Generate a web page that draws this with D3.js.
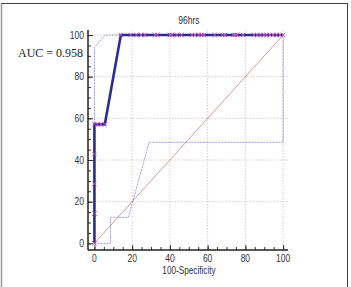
<!DOCTYPE html>
<html><head><meta charset="utf-8">
<script src="https://cdn.jsdelivr.net/npm/d3@7"></script>
<style>body{margin:0;background:#fff}svg{display:block}</style>
</head><body><div id="c"></div>
<script>
const title = "96hrs";
const aucLabel = "AUC = 0.958";
const xLabel = "100-Specificity";
const ticks = [0, 20, 40, 60, 80, 100];
// ROC curve vertices (100-Specificity, Sensitivity)
const rocX = [0, 0, 0, 0, 0, 5.5, 14, 100];
const rocY = [0, 14.3, 28.6, 42.9, 57.1, 57.1, 100, 100];
// marker points
const markX = [0, 0, 0, 0, 0, 1.5, 3.5, 5.5,
  14, 19.2, 22.3, 24.7, 27, 32, 33.4, 40, 41, 43.6, 46.2, 51.7, 53.3, 55.2, 56.8, 58.2,
  63.7, 67.9, 69.2, 73.6, 74.5, 75.7, 78.8, 84.5, 86.3, 88, 89.8, 91.2, 93, 94.7, 96.5, 98.3, 100];
const markY = [0, 14.3, 28.6, 42.9, 57.1, 57.1, 57.1, 57.1,
  100,100,100,100,100,100,100,100,100,100,100,100,100,100,100,100,
  100,100,100,100,100,100,100,100,100,100,100,100,100,100,100,100,100];
// confidence bounds
const upperX = [0, 0, 5.5, 100];
const upperY = [0, 94, 100, 100];
const lowerX = [0, 8.5, 8.5, 18, 29, 100, 100];
const lowerY = [0, 0, 12.5, 12.5, 48.5, 48.5, 100];
const diagX = [0, 100];
const diagY = [0, 100];

const W = 351, H = 287;
const svg = d3.select("#c").append("svg").attr("width", W).attr("height", H);

function narrow(sel, f) {
  sel.each(function() {
    const l = this.getComputedTextLength();
    d3.select(this).attr("textLength", l * f).attr("lengthAdjust", "spacingAndGlyphs");
  });
  return sel;
}

// frame
svg.append("line").attr("x1", 1.5).attr("x2", 1.5).attr("y1", 3).attr("y2", H).attr("stroke", "#999").attr("stroke-width", 1.5);
svg.append("line").attr("x1", 1.5).attr("x2", 347.5).attr("y1", 3.5).attr("y2", 3.5).attr("stroke", "#444");
svg.append("line").attr("x1", 347.5).attr("x2", 347.5).attr("y1", 3).attr("y2", H).attr("stroke", "#444");

const x = d3.scaleLinear().domain([-3.4, 102.6]).range([88, 288]);
const y = d3.scaleLinear().domain([-3.2, 102.4]).range([250, 30]);

// grid
const grid = svg.append("g");
ticks.filter(t => t > 0).forEach(t => {
  grid.append("line").attr("x1", x(t)).attr("x2", x(t)).attr("y1", y(102.4)).attr("y2", y(-3.2))
    .attr("stroke", "#c4c4c4").attr("stroke-width", 0.8).attr("stroke-dasharray", "1.5,1.5");
  grid.append("line").attr("x1", x(-3.4)).attr("x2", x(102.6)).attr("y1", y(t)).attr("y2", y(t))
    .attr("stroke", "#c4c4c4").attr("stroke-width", 0.8).attr("stroke-dasharray", "1.5,1.5");
});

const sans = "Liberation Sans, Arial, sans-serif";

// axes
const minor = d3.range(0, 101, 5);
const xa = svg.append("g").attr("transform", "translate(0,250)");
xa.call(d3.axisTop(x).tickValues(minor).tickSize(3).tickFormat(""));
xa.append("g").call(d3.axisTop(x).tickValues(ticks).tickSize(5).tickFormat(""));
xa.selectAll(".domain").remove();
xa.append("line").attr("x1", 88).attr("x2", 288).attr("stroke", "#222").attr("stroke-width", 1.5);
xa.selectAll(".tick line").attr("stroke", "#333");
ticks.forEach(t => narrow(xa.append("text").attr("x", x(t)).attr("y", 11.5).attr("text-anchor", "middle")
  .attr("font-family", sans).attr("font-size", 10).attr("fill", "#333").text(t), 0.85));

const ya = svg.append("g").attr("transform", "translate(88,0)");
ya.call(d3.axisRight(y).tickValues(minor).tickSize(3).tickFormat(""));
ya.append("g").call(d3.axisRight(y).tickValues(ticks).tickSize(5).tickFormat(""));
ya.selectAll(".domain").remove();
ya.append("line").attr("y1", 30).attr("y2", 250).attr("stroke", "#222").attr("stroke-width", 1.5);
ya.selectAll(".tick line").attr("stroke", "#333");
ticks.forEach(t => narrow(ya.append("text").attr("x", -4).attr("y", y(t)).attr("dy", "0.35em").attr("text-anchor", "end")
  .attr("font-family", sans).attr("font-size", 10).attr("fill", "#333").text(t), 0.85));

const line = d3.line().x(d => x(d[0])).y(d => y(d[1]));
const zip = (a, b) => a.map((v, i) => [v, b[i]]);

// diagonal
svg.append("path").attr("d", line(zip(diagX, diagY))).attr("fill", "none").attr("stroke", "#c88080").attr("stroke-width", 0.8);
// bounds
svg.append("path").attr("d", line(zip(upperX, upperY))).attr("fill", "none").attr("stroke", "#8c8cd8").attr("stroke-width", 0.9).attr("stroke-dasharray", "2,1");
svg.append("path").attr("d", line(zip(lowerX, lowerY))).attr("fill", "none").attr("stroke", "#8c8cd8").attr("stroke-width", 0.9).attr("stroke-dasharray", "2,1");
// ROC
svg.append("path").attr("d", line(zip(rocX, rocY))).attr("fill", "none").attr("stroke", "#2b2b96").attr("stroke-width", 2.6);
// markers
const mk = svg.append("g");
zip(markX, markY).forEach(p => {
  const cx = x(p[0]), cy = y(p[1]), s = 2.2;
  mk.append("path").attr("d", `M${cx-s},${cy-s}L${cx+s},${cy+s}M${cx-s},${cy+s}L${cx+s},${cy-s}`)
    .attr("stroke", "#c050b0").attr("stroke-width", 1);
});

// texts
narrow(svg.append("text").attr("x", 189).attr("y", 24).attr("text-anchor", "middle")
  .attr("font-family", sans).attr("font-size", 10).attr("fill", "#333").text(title), 0.85);
narrow(svg.append("text").attr("x", 189).attr("y", 274).attr("text-anchor", "middle")
  .attr("font-family", sans).attr("font-size", 10).attr("fill", "#333").text(xLabel), 0.82);
svg.append("text").attr("x", 18).attr("y", 57).attr("text-anchor", "start")
  .attr("font-family", "Liberation Serif, Times New Roman, serif").attr("font-size", 12).attr("fill", "#222").text(aucLabel);
</script></body></html>
